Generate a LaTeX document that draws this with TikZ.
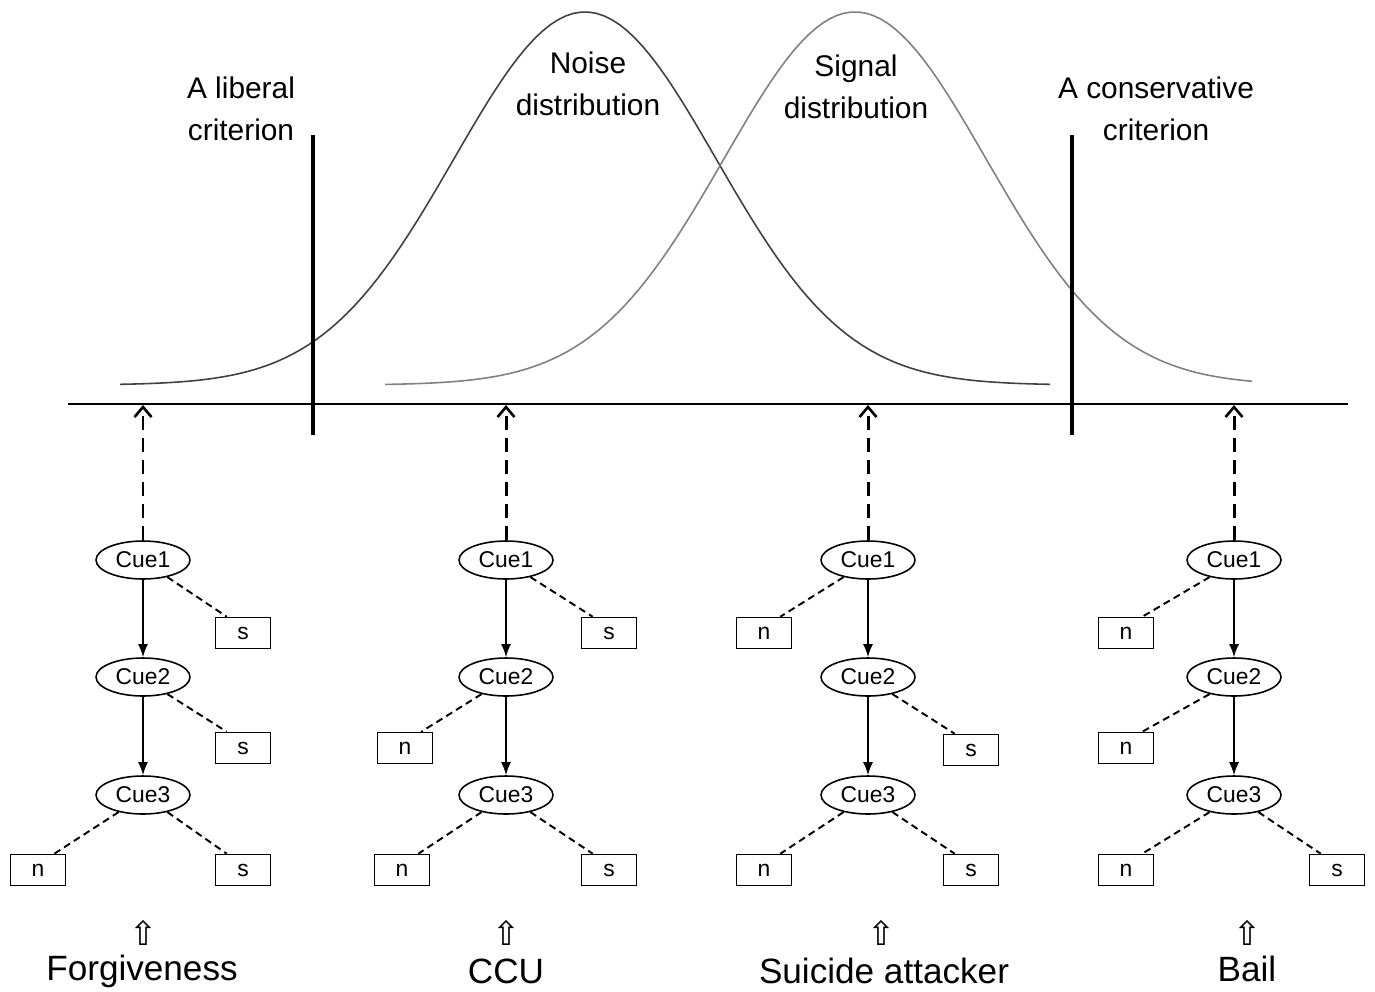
\documentclass[tikz,border=0pt]{standalone}
\usepackage{fontspec}
\setmainfont{Liberation Sans}
\newfontfamily\symfont{DejaVu Sans}
\usetikzlibrary{arrows.meta, shapes.geometric}

\tikzset{
	cue/.style = {draw, ellipse, line width = 0.9pt, minimum width = 1.88cm, minimum height = 0.76cm, inner sep = 0pt, font = \fontsize{13}{15}\selectfont},
	leaf/.style = {draw, rectangle, line width = 0.9pt, minimum width = 1.1cm, minimum height = 0.62cm, inner sep = 0pt, font = \fontsize{13}{15}\selectfont},
	exit/.style = {dash pattern = on 4pt off 2.6pt, line width = 1.1pt},
	next/.style = {-{Latex[length = 0.26cm, width = 0.2cm]}, line width = 1pt},
	toaxis/.style = {-{Straight Barb[length = 0.2cm, width = 0.34cm, line width = 1.5pt]}, dash pattern = on 8pt off 4.5pt, line width = 1.7pt},
	crit/.style = {line width = 2.8pt},
	title/.style = {align = center, font = \fontsize{17}{24}\selectfont},
	case/.style = {font = \fontsize{20}{24}\selectfont},
	hollow/.style = {font = \symfont\fontsize{19}{20}\selectfont}
}

\begin{document}
\begin{tikzpicture}[x = 0.02cm, y = -0.02cm]
	\useasboundingbox (0, 0) rectangle (1375, 991);

	% distributions
	\draw[black!75, line width = 0.9pt, domain = 120:1050, samples = 120] plot (\x, {385 - 373*exp(-((\x - 585)/131)^2/2)});
	\draw[black!50, line width = 0.9pt, domain = 385:1252, samples = 120] plot (\x, {385 - 373*exp(-((\x - 855)/131)^2/2)});

	\draw[line width = 1.1pt] (68, 404) -- (1348, 404);
	\draw[crit] (313, 135) -- (313, 435);
	\draw[crit] (1072, 135) -- (1072, 435);

	\node[title] (liberal) at (241, 109) {A liberal\\criterion};
	\node[title] (noise) at (588, 84) {Noise\\distribution};
	\node[title] (signal) at (856, 87) {Signal\\distribution};
	\node[title] (conservative) at (1156, 109) {A conservative\\criterion};

	% forgiveness
	\coordinate (ax1) at (143, 405);
	\node[cue] (a1) at (143, 560) {Cue1};
	\node[cue] (a2) at (143, 677) {Cue2};
	\node[cue] (a3) at (143, 795) {Cue3};
	\node[leaf] (as1) at (243, 633) {s};
	\node[leaf] (as2) at (243, 748) {s};
	\node[leaf] (an3) at (38, 870) {n};
	\node[leaf] (as3) at (243, 870) {s};
	\draw[toaxis] (a1) -- (ax1);
	\draw[next] (a1) -- (a2);
	\draw[next] (a2) -- (a3);
	\draw[exit] (a1.-35) -- (as1.135);
	\draw[exit] (a2.-35) -- (as2.135);
	\draw[exit] (a3.-145) -- (an3.45);
	\draw[exit] (a3.-35) -- (as3.135);
	\node[hollow] (aup) at (143, 933) {⇧};
	\node[case] (forgiveness) at (142, 971) {Forgiveness};

	% ccu
	\coordinate (ax2) at (506, 405);
	\node[cue] (b1) at (506, 560) {Cue1};
	\node[cue] (b2) at (506, 677) {Cue2};
	\node[cue] (b3) at (506, 795) {Cue3};
	\node[leaf] (bs1) at (609, 633) {s};
	\node[leaf] (bn2) at (405, 748) {n};
	\node[leaf] (bn3) at (402, 870) {n};
	\node[leaf] (bs3) at (609, 870) {s};
	\draw[toaxis] (b1) -- (ax2);
	\draw[next] (b1) -- (b2);
	\draw[next] (b2) -- (b3);
	\draw[exit] (b1.-35) -- (bs1.135);
	\draw[exit] (b2.-145) -- (bn2.45);
	\draw[exit] (b3.-145) -- (bn3.45);
	\draw[exit] (b3.-35) -- (bs3.135);
	\node[hollow] (bup) at (506, 933) {⇧};
	\node[case] (ccu) at (506, 971) {CCU};

	% suicide attacker
	\coordinate (ax3) at (868, 405);
	\node[cue] (c1) at (868, 560) {Cue1};
	\node[cue] (c2) at (868, 677) {Cue2};
	\node[cue] (c3) at (868, 795) {Cue3};
	\node[leaf] (cn1) at (764, 633) {n};
	\node[leaf] (cs2) at (971, 750) {s};
	\node[leaf] (cn3) at (764, 870) {n};
	\node[leaf] (cs3) at (971, 870) {s};
	\draw[toaxis] (c1) -- (ax3);
	\draw[next] (c1) -- (c2);
	\draw[next] (c2) -- (c3);
	\draw[exit] (c1.-145) -- (cn1.45);
	\draw[exit] (c2.-35) -- (cs2.135);
	\draw[exit] (c3.-145) -- (cn3.45);
	\draw[exit] (c3.-35) -- (cs3.135);
	\node[hollow] (cup) at (881, 933) {⇧};
	\node[case] (attacker) at (884, 971) {Suicide attacker};

	% bail
	\coordinate (ax4) at (1234, 405);
	\node[cue] (d1) at (1234, 560) {Cue1};
	\node[cue] (d2) at (1234, 677) {Cue2};
	\node[cue] (d3) at (1234, 795) {Cue3};
	\node[leaf] (dn1) at (1126, 633) {n};
	\node[leaf] (dn2) at (1126, 748) {n};
	\node[leaf] (dn3) at (1126, 870) {n};
	\node[leaf] (ds3) at (1337, 870) {s};
	\draw[toaxis] (d1) -- (ax4);
	\draw[next] (d1) -- (d2);
	\draw[next] (d2) -- (d3);
	\draw[exit] (d1.-145) -- (dn1.45);
	\draw[exit] (d2.-145) -- (dn2.45);
	\draw[exit] (d3.-145) -- (dn3.45);
	\draw[exit] (d3.-35) -- (ds3.135);
	\node[hollow] (dup) at (1247, 933) {⇧};
	\node[case] (bail) at (1247, 969) {Bail};
\end{tikzpicture}
\end{document}
